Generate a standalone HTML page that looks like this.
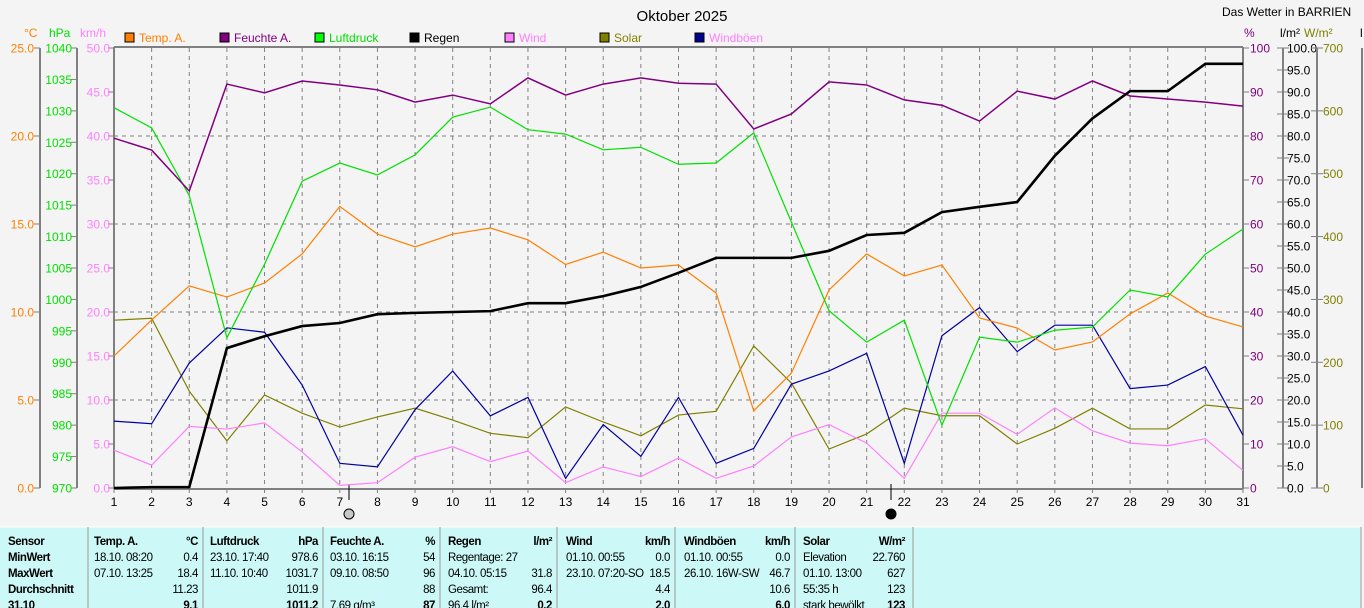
<!DOCTYPE html>
<html><head><meta charset="utf-8">
<style>
html,body{margin:0;padding:0;background:#f4f4f4;}
svg{display:block;font-family:"Liberation Sans",sans-serif;}
.tb{font-family:"Liberation Sans",sans-serif;font-size:11.5px;letter-spacing:-0.45px;fill:#000;}
</style></head>
<body>
<svg id="chart" width="1364" height="608" viewBox="0 0 1364 608">
<rect x="0" y="0" width="1364" height="608" fill="#f4f4f4"/>
<text x="682" y="21" text-anchor="middle" font-size="15" fill="#000">Oktober 2025</text>
<text x="1222" y="16" font-size="12" fill="#000">Das Wetter in BARRIEN</text>
<g id="grid"></g>
<g id="axes"></g>
<g id="series"></g>
<g id="legend"></g>
<g id="table"></g>
</svg>
<script>
const days=[1,2,3,4,5,6,7,8,9,10,11,12,13,14,15,16,17,18,19,20,21,22,23,24,25,26,27,28,29,30,31];
const temp=[7.5,9.55,11.48,10.85,11.65,13.3,16.0,14.43,13.7,14.43,14.77,14.1,12.7,13.4,12.5,12.67,11.08,4.38,6.53,11.25,13.3,12.05,12.67,9.66,9.09,7.84,8.3,9.89,11.08,9.77,9.15];
const humidity=[79.5,76.8,67.5,91.8,89.8,92.5,91.6,90.5,87.7,89.3,87.3,93.2,89.3,91.8,93.2,92,91.8,81.6,85,92.3,91.6,88.2,87,83.4,90.2,88.4,92.5,89.1,88.4,87.7,86.8];
const pressure=[1030.5,1027.3,1016.5,993.9,1005.6,1018.8,1021.7,1019.8,1023,1029,1030.6,1027,1026.3,1023.8,1024.2,1021.5,1021.7,1026.5,1012.3,998.2,993.2,996.7,980,994,993.2,995.1,995.6,1001.5,1000.4,1007.2,1011.2];
const rain=[0,0.2,0.2,31.8,34.5,36.8,37.5,39.5,39.8,40,40.2,42,42,43.6,45.7,48.9,52.3,52.3,52.3,53.9,57.5,58,62.7,63.9,65,75.5,84,90.2,90.2,96.4,96.4];
const wind=[4.3,2.6,7.0,6.7,7.4,4.1,0.3,0.6,3.5,4.7,3.0,4.2,0.6,2.4,1.3,3.4,1.1,2.5,5.8,7.2,5.1,1.1,8.5,8.5,6.1,9.1,6.5,5.1,4.8,5.6,2.0];
const gusts=[7.6,7.3,14.2,18.2,17.7,11.7,2.8,2.4,8.9,13.3,8.2,10.3,1.1,7.2,3.6,10.3,2.8,4.5,11.8,13.3,15.3,2.8,17.3,20.5,15.5,18.5,18.5,11.3,11.7,13.8,6.0];
const solar=[267,270,154,75,148,119,97,113,127,108,87,80,129,105,83,116,122,226,167,62,86,127,115,115,70,95,127,94,94,132,126];
const tempTicks=[0,5,10,15,20,25];
const presTicks=[970,975,980,985,990,995,1000,1005,1010,1015,1020,1025,1030,1035,1040];
const kmhTicks=[0,5,10,15,20,25,30,35,40,45,50];
const humTicks=[0,10,20,30,40,50,60,70,80,90,100];
const rainTicks=[0,5,10,15,20,25,30,35,40,45,50,55,60,65,70,75,80,85,90,95,100];
const solarTicks=[0,100,200,300,400,500,600,700];

const NS="http://www.w3.org/2000/svg";
const L=114,R=1243,T=48,B=488,H=B-T;
const x=d=>L+(d-1)*(R-L)/30;
const yC=v=>B-v/25*H;
const yP=v=>B-(v-970)/70*H;
const yK=v=>B-v/50*H;
const yH=v=>B-v/100*H;
const yR=v=>B-v/100*H;
const yS=v=>B-v/700*H;
function el(tag,attrs,parent,text){const e=document.createElementNS(NS,tag);for(const k in attrs)e.setAttribute(k,attrs[k]);if(text!==undefined)e.textContent=text;parent.appendChild(e);return e;}
const grid=document.getElementById('grid'),axes=document.getElementById('axes'),series=document.getElementById('series'),legend=document.getElementById('legend'),table=document.getElementById('table');
days.forEach(d=>{if(d>1&&d<31){const g=el('line',{x1:x(d),x2:x(d),y1:T,y2:B,stroke:'#808080','stroke-dasharray':'4,4','stroke-width':1},grid);

}});
[10,20,30,40].forEach(v=>{const g=el('line',{x1:L,x2:R,y1:yK(v),y2:yK(v),stroke:'#808080','stroke-dasharray':'4,4','stroke-width':1},grid);

});
el('line',{x1:L,x2:L,y1:T-1,y2:B+1,stroke:'#808080','stroke-width':2},axes);
el('line',{x1:R,x2:R,y1:T-1,y2:B+1,stroke:'#808080','stroke-width':2},axes);
el('line',{x1:L,x2:R,y1:T-1,y2:T-1,stroke:'#808080','stroke-width':2},axes);
el('line',{x1:L,x2:R,y1:B+1,y2:B+1,stroke:'#808080','stroke-width':2},axes);
days.forEach(d=>{el('line',{x1:x(d),x2:x(d),y1:B,y2:B+5,stroke:'#808080'},axes);
const t=el('text',{x:x(d),y:B+18,'text-anchor':'middle','font-size':12,fill:'#000'},axes,String(d));

});
function vAxis(ticks,f,lineX,labelX,anchor,color,fmt,tickDir){
 el('line',{x1:lineX,x2:lineX,y1:T,y2:B,stroke:'#808080','stroke-width':2},axes);
 ticks.forEach(v=>{const yy=f(v);el('line',{x1:lineX,x2:lineX+tickDir*6,y1:yy,y2:yy,stroke:'#808080'},axes);
 const t=el('text',{x:labelX,y:yy+4.5,'text-anchor':anchor,'font-size':12,fill:color},axes,fmt(v));
 
 });
}
vAxis(tempTicks,yC,40,34,'end','#ff8000',v=>v.toFixed(1),-1);
vAxis(presTicks,yP,77,72,'end','#00e000',v=>String(v),-1);
vAxis(kmhTicks,yK,L,110,'end','#ff80ff',v=>v.toFixed(1),-1);
humTicks.forEach(v=>{const yy=yH(v);el('line',{x1:R,x2:R+6,y1:yy,y2:yy,stroke:'#808080'},axes);
const t=el('text',{x:1250,y:yy+4.5,'font-size':12,fill:'#800080'},axes,String(v));

});
el('line',{x1:1283,x2:1283,y1:T,y2:B,stroke:'#808080','stroke-width':2},axes);
rainTicks.forEach(v=>{const yy=yR(v);el('line',{x1:1277,x2:1289,y1:yy,y2:yy,stroke:'#808080'},axes);
const t=el('text',{x:1287,y:yy+4.5,'font-size':12,fill:'#000'},axes,v.toFixed(1));

});
el('line',{x1:1317,x2:1317,y1:T,y2:B,stroke:'#808080','stroke-width':2},axes);
solarTicks.forEach(v=>{const yy=yS(v);el('line',{x1:1311,x2:1323,y1:yy,y2:yy,stroke:'#808080'},axes);
const t=el('text',{x:1323,y:yy+4.5,'font-size':12,fill:'#808000'},axes,String(v));

});
el('line',{x1:1362,x2:1362,y1:T,y2:B,stroke:'#808080','stroke-width':2},axes);
[['°C',24,'#ff8000'],['hPa',49,'#00e000'],['km/h',80,'#ff80ff'],['%',1244,'#800080'],['l/m²',1280,'#000'],['W/m²',1304,'#808000'],['l',1360,'#000']].forEach(a=>{
 const t=el('text',{x:a[1],y:37,'font-size':12,fill:a[2]},axes,a[0]);
 
 });
el('line',{x1:349,x2:349,y1:B-4,y2:B+12,stroke:'#000'},axes);
const m1=el('circle',{cx:349,cy:514,r:5,fill:'#c8c8c8',stroke:'#000'},axes);


el('line',{x1:891,x2:891,y1:B-4,y2:B+12,stroke:'#000'},axes);
const m2=el('circle',{cx:891,cy:514,r:5,fill:'#000',stroke:'#000'},axes);


function line(vals,f,color,w,name){const pts=vals.map((v,i)=>x(days[i])+','+f(v)).join(' ');
 const p=el('polyline',{points:pts,fill:'none',stroke:color,'stroke-width':w,'stroke-linejoin':'miter'},series);
 
 }
line(solar,yS,'#808000',1.2,'solar-line');
line(wind,yK,'#ff80ff',1.2,'wind-line');
line(gusts,yK,'#0000a0',1.2,'gusts-line');
line(temp,yC,'#ff8000',1.2,'temp-line');
line(pressure,yP,'#00e000',1.2,'pressure-line');
line(humidity,yH,'#800080',1.5,'humidity-line');
line(rain,yR,'#000000',2.6,'rain-line');
[['Temp. A.','#ff8000','#ff8000'],['Feuchte A.','#800080','#800080'],['Luftdruck','#00ff00','#00e000'],['Regen','#000','#000'],['Wind','#ff80ff','#ff80ff'],['Solar','#808000','#808000'],['Windböen','#000090','#ff80ff']].forEach((l,i)=>{
 const lx=125+i*95;
 const r=el('rect',{x:lx,y:33,width:9,height:9,fill:l[1],stroke:'#000'},legend);
 
 
 const t=el('text',{x:lx+14,y:42,'font-size':12,fill:l[2]},legend,l[0]);
 
 });
el('rect',{x:0,y:527,width:1360,height:81,fill:'#ccf9f7'},table);
el('line',{x1:0,x2:1360,y1:527,y2:527,stroke:'#fff'},table);
[88,203,323,440,557,675,795,913].forEach(v=>el('line',{x1:v,x2:v,y1:527,y2:608,stroke:'#999'},table));
el('line',{x1:1361,x2:1361,y1:527,y2:608,stroke:'#999'},table);
const rowsY=[545,561,577,593,609];
const cells=[
 [8,0,'Sensor','s',1],[8,1,'MinWert','s',1],[8,2,'MaxWert','s',1],[8,3,'Durchschnitt','s',1],[8,4,'31.10','s',1],
 [94,0,'Temp. A.','s',1],[198,0,'°C','e',1],[94,1,'18.10. 08:20','s'],[198,1,'0.4','e'],[94,2,'07.10. 13:25','s'],[198,2,'18.4','e'],[198,3,'11.23','e'],[198,4,'9.1','e',1],
 [210,0,'Luftdruck','s',1],[318,0,'hPa','e',1],[210,1,'23.10. 17:40','s'],[318,1,'978.6','e'],[210,2,'11.10. 10:40','s'],[318,2,'1031.7','e'],[318,3,'1011.9','e'],[318,4,'1011.2','e',1],
 [330,0,'Feuchte A.','s',1],[435,0,'%','e',1],[330,1,'03.10. 16:15','s'],[435,1,'54','e'],[330,2,'09.10. 08:50','s'],[435,2,'96','e'],[435,3,'88','e'],[330,4,'7.69 g/m³','s'],[435,4,'87','e',1],
 [448,0,'Regen','s',1],[552,0,'l/m²','e',1],[448,1,'Regentage: 27','s'],[448,2,'04.10. 05:15','s'],[552,2,'31.8','e'],[448,3,'Gesamt:','s'],[552,3,'96.4','e'],[448,4,'96.4 l/m²','s'],[552,4,'0.2','e',1],
 [566,0,'Wind','s',1],[670,0,'km/h','e',1],[566,1,'01.10. 00:55','s'],[670,1,'0.0','e'],[566,2,'23.10. 07:20-SO','s'],[670,2,'18.5','e'],[670,3,'4.4','e'],[670,4,'2.0','e',1],
 [684,0,'Windböen','s',1],[790,0,'km/h','e',1],[684,1,'01.10. 00:55','s'],[790,1,'0.0','e'],[684,2,'26.10. 16W-SW','s'],[790,2,'46.7','e'],[790,3,'10.6','e'],[790,4,'6.0','e',1],
 [803,0,'Solar','s',1],[905,0,'W/m²','e',1],[803,1,'Elevation','s'],[905,1,'22.760','e'],[803,2,'01.10. 13:00','s'],[905,2,'627','e'],[803,3,'55:35 h','s'],[905,3,'123','e'],[803,4,'stark bewölkt','s'],[905,4,'123','e',1]
];
cells.forEach(c=>{const t=el('text',{x:c[0],y:rowsY[c[1]],'text-anchor':c[3]==='e'?'end':'start','class':'tb','font-weight':c[4]?'bold':'normal'},table,c[2]);
 
 });
</script>
</body></html>
